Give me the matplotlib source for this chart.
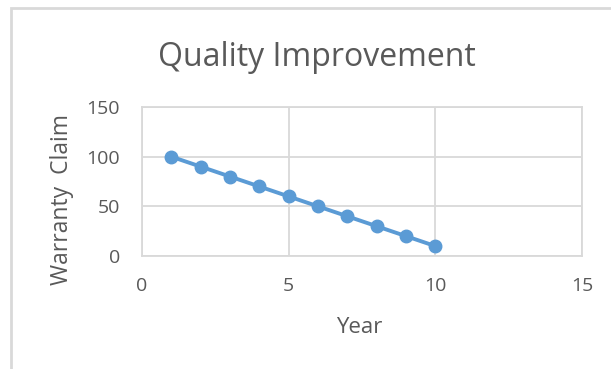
import matplotlib.pyplot as plt
from matplotlib.patches import Rectangle

# warranty claims per year
years = [1, 2, 3, 4, 5, 6, 7, 8, 9, 10]
claims = [100, 90, 80, 70, 60, 50, 40, 30, 20, 10]
x_ticks = [0, 5, 10, 15]
y_ticks = [0, 50, 100, 150]

plt.rcParams['font.family'] = ['Open Sans', 'DejaVu Sans']
text_gray = '#595959'
grid_gray = '#d9d9d9'

fig = plt.figure(figsize=(6.11, 3.69), dpi=100)
ax = fig.add_axes([0.2324, 0.3062, 0.7201, 0.4038])

# outer chart frame, cut off on the right and bottom
fig.patches.append(Rectangle((11 / 611, -0.1), 1.2, 1 - 8.5 / 369 + 0.1,
                             transform=fig.transFigure, fill=False,
                             edgecolor=grid_gray, linewidth=2, clip_on=False))

ax.plot(years, claims, color='#5B9BD5', linewidth=2.8, marker='o',
        markersize=9, zorder=3)

ax.set_xlim(0, 15)
ax.set_ylim(0, 150)
ax.set_xticks(x_ticks)
ax.set_yticks(y_ticks)
ax.grid(color=grid_gray, linewidth=1.3)
ax.set_axisbelow(True)
for s in ax.spines.values():
    s.set_color(grid_gray)
    s.set_linewidth(1.3)
ax.tick_params(length=0, labelcolor=text_gray, labelsize=14)
ax.tick_params(axis='x', pad=15)
ax.tick_params(axis='y', pad=16)

fig.text(0.519, 0.845, 'Quality Improvement', ha='center', va='center',
         fontsize=23, color=text_gray)
fig.text(0.588, 0.0976, 'Year', ha='center', va='baseline',
         fontsize=16, color=text_gray)
fig.text(0.1015, 0.4607, 'Warranty  Claim', ha='center', va='center',
         rotation=90, fontsize=16.5, color=text_gray)

fig.savefig('out.png', dpi=100)
